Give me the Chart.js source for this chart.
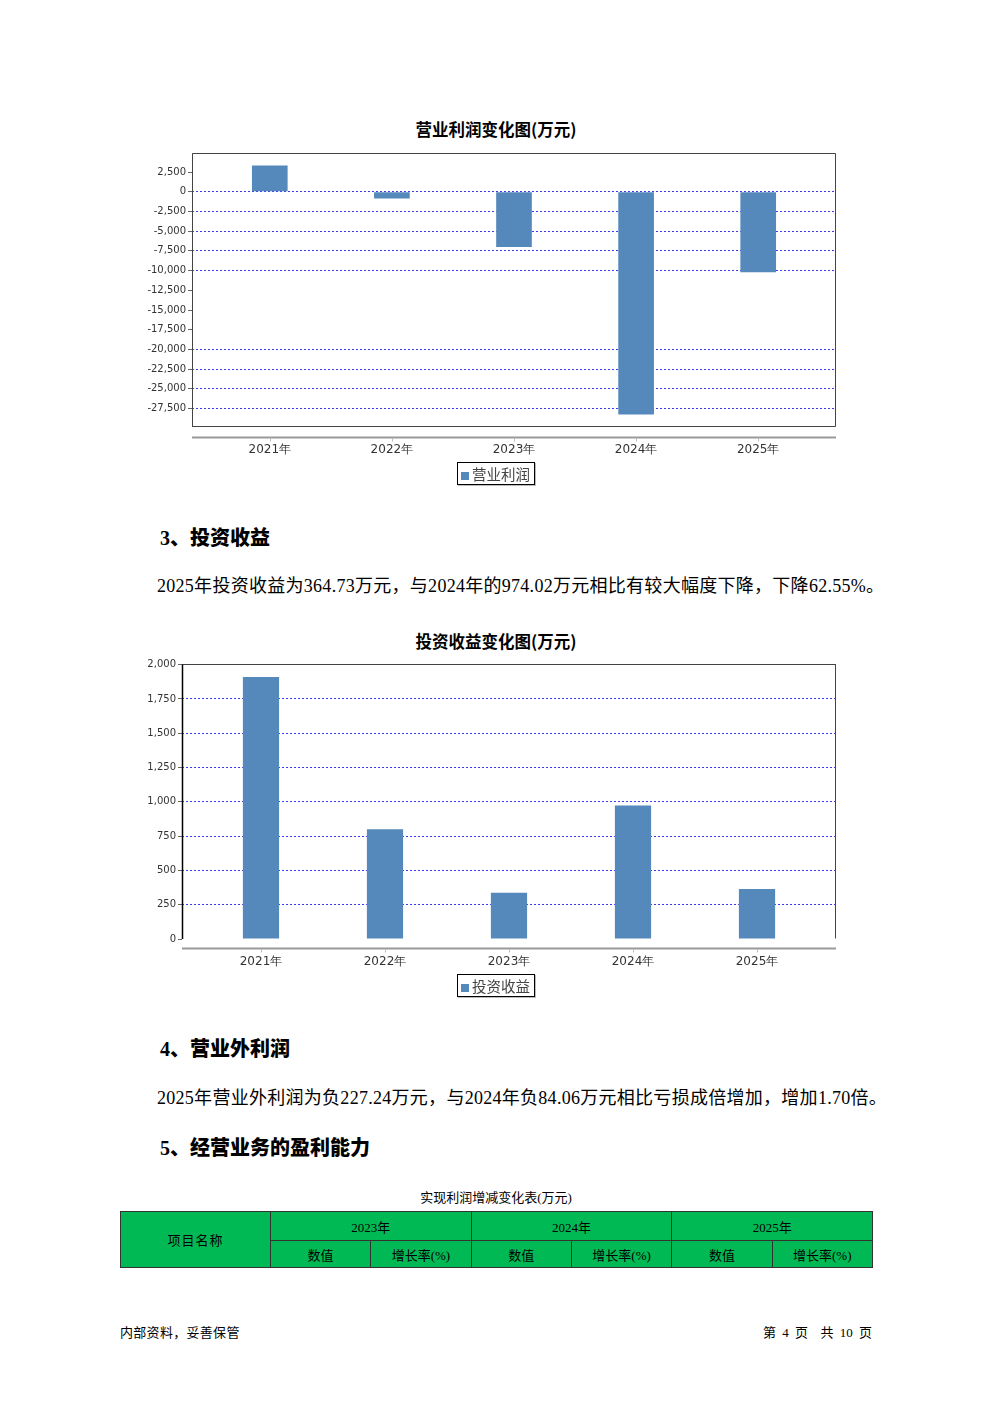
<!DOCTYPE html>
<html>
<head>
<meta charset="utf-8">
<script src="https://cdn.jsdelivr.net/npm/chart.js@4.4.0/dist/chart.umd.min.js"></script>
<style>
  html, body { margin: 0; padding: 0; background: #fff; }
  body { width: 992px; height: 1403px; position: relative; overflow: hidden; font-family: "Noto Sans CJK SC", sans-serif; color: #000; }
  .abs { position: absolute; }
  .ctitle { left: 0; width: 992px; text-align: center; font-weight: bold; font-size: 16.5px; line-height: 20px; }
  .legend { border: 1px solid #000; box-shadow: 1px 1px 0 #bbb; height: 21px; width: 76px; font-size: 14.5px; line-height: 21px; color: #444; white-space: nowrap; }
  .legend i { display: inline-block; width: 8px; height: 8px; background: #5588bb; margin: 0 3px 0 3px; vertical-align: 0px; }
  .h { left: 160px; font-weight: bold; font-size: 20px; line-height: 26px; font-family: "Liberation Serif", "Noto Sans CJK SC", serif; }
  .h b { font-family: "Noto Sans CJK SC", sans-serif; }
  .p { left: 157px; font-size: 18px; line-height: 24px; letter-spacing: 0.28px; font-family: "Liberation Serif", "Noto Sans CJK SC", serif; white-space: nowrap; }
  table { border-collapse: collapse; }
  td { background: #00b955; border: 1px solid #333; text-align: center; font-size: 13px; padding: 0; font-family: "Liberation Serif", "Noto Sans CJK SC", serif; }
  .foot { font-size: 13px; line-height: 16px; font-family: "Liberation Serif", "Noto Sans CJK SC", serif; }
</style>
</head>
<body>

<div class="abs ctitle" style="top:119px">营业利润变化图(万元)</div>
<div class="abs" style="left:130px; top:145px; width:720px; height:320px;"><canvas id="profitChart"></canvas></div>
<div class="abs legend" style="left:457px; top:462px;"><i></i>营业利润</div>

<div class="abs h" style="top:524px">3<b>、投资收益</b></div>
<div class="abs p" style="top:574px">2025年投资收益为364.73万元，与2024年的974.02万元相比有较大幅度下降，下降62.55%。</div>

<div class="abs ctitle" style="top:631px">投资收益变化图(万元)</div>
<div class="abs" style="left:120px; top:655px; width:730px; height:320px;"><canvas id="investChart"></canvas></div>
<div class="abs legend" style="left:457px; top:974px;"><i></i>投资收益</div>

<div class="abs h" style="top:1035px">4<b>、营业外利润</b></div>
<div class="abs p" style="top:1086px">2025年营业外利润为负227.24万元，与2024年负84.06万元相比亏损成倍增加，增加1.70倍。</div>
<div class="abs h" style="top:1134px">5<b>、经营业务的盈利能力</b></div>

<div class="abs foot" style="left:0; width:992px; text-align:center; top:1190px;">实现利润增减变化表(万元)</div>
<table class="abs" style="left:120px; top:1211px; width:753px;">
  <tr style="height:29px">
    <td rowspan="2" style="width:150px; letter-spacing:1px">项目名称</td>
    <td colspan="2">2023年</td><td colspan="2">2024年</td><td colspan="2">2025年</td>
  </tr>
  <tr style="height:27px">
    <td style="width:100px">数值</td><td style="width:100px">增长率(%)</td>
    <td style="width:100px">数值</td><td style="width:100px">增长率(%)</td>
    <td style="width:100px">数值</td><td style="width:100px">增长率(%)</td>
  </tr>
</table>

<div class="abs foot" style="left:120px; top:1325px; letter-spacing:0.3px">内部资料，妥善保管</div>
<div class="abs foot" style="left:700px; width:172px; text-align:right; top:1325px; word-spacing:3px">第 4 页&nbsp;&nbsp;共 10 页</div>

<script>
// ---- data ----
const years = ['2021年', '2022年', '2023年', '2024年', '2025年'];
const operatingProfit = [3340, -845, -7010, -28260, -10220];
const investIncome = [1910, 800, 338, 974.02, 364.73];

const profitTicks = [2500, 0, -2500, -5000, -7500, -10000, -12500, -15000, -17500, -20000, -22500, -25000, -27500];
const profitNoGrid = [2500, -12500, -15000, -17500];
const investTicks = [0, 250, 500, 750, 1000, 1250, 1500, 1750, 2000];

const barColor = '#5588bb';
const gridColor = '#3b3bf5';

// plot frame + detached x axis line below the plot
const framePlugin = {
    id: 'frame',
    afterDraw(chart, args, opts) {
        const { ctx, chartArea: a, scales: { x } } = chart;
        const l = Math.round(a.left) + 0.5, r = Math.round(a.right) - 0.5;
        const t = Math.round(a.top) + 0.5, b = Math.round(a.bottom) - 0.5;
        ctx.save();
        ctx.lineWidth = 1;
        ctx.strokeStyle = '#444';
        ctx.beginPath();
        if (opts.bottom) {
            ctx.rect(l, t, r - l, b - t);
        } else {
            ctx.moveTo(l, t); ctx.lineTo(r, t); ctx.lineTo(r, b);
        }
        ctx.stroke();
        ctx.strokeStyle = opts.leftColor || '#444';
        ctx.lineWidth = opts.leftWidth || 1;
        ctx.beginPath();
        ctx.moveTo(l, t); ctx.lineTo(l, b + 0.5);
        ctx.stroke();
        // x axis
        const y = Math.round(a.bottom + opts.gap) + 0.5;
        ctx.strokeStyle = '#999';
        ctx.lineWidth = 2;
        ctx.beginPath();
        ctx.moveTo(a.left, y); ctx.lineTo(a.right, y);
        ctx.stroke();
        ctx.lineWidth = 1;
        ctx.strokeStyle = '#bbb';
        years.forEach((_, i) => {
            const px = Math.round(x.getPixelForValue(i)) + 0.5;
            ctx.beginPath(); ctx.moveTo(px, y + 1); ctx.lineTo(px, y + 4); ctx.stroke();
        });
        ctx.restore();
    }
};

function makeChart(id, values, label, yMin, yMax, yTicks, noGrid, layoutPad, xHeight, frameOpts) {
    return new Chart(document.getElementById(id).getContext('2d'), {
        type: 'bar',
        data: {
            datasets: [{
                label: label,
                data: values.map((v, i) => ({ x: i, y: v })),
                backgroundColor: barColor,
                borderWidth: 0,
                categoryPercentage: 1,
                barPercentage: 0.292
            }]
        },
        options: {
            responsive: true,
            maintainAspectRatio: false,
            animation: false,
            events: [],
            layout: { padding: layoutPad },
            plugins: { legend: { display: false }, title: { display: false }, tooltip: { enabled: false }, frame: frameOpts },
            scales: {
                x: {
                    type: 'linear',
                    offset: false,
                    min: -0.637,
                    max: years.length - 1 + 0.637,
                    afterBuildTicks: s => { s.ticks = years.map((_, i) => ({ value: i })); },
                    afterFit: s => { s.height = xHeight; },
                    grid: { display: false, drawTicks: false },
                    border: { display: false },
                    ticks: {
                        callback: v => years[v],
                        color: '#333',
                        padding: 16,
                        maxRotation: 0,
                        autoSkip: false,
                        font: { family: 'DejaVu Sans', size: 12 }
                    }
                },
                y: {
                    min: yMin,
                    max: yMax,
                    afterBuildTicks: s => { s.ticks = yTicks.map(v => ({ value: v })); },
                    afterFit: s => { s.width = 62; },
                    grid: {
                        color: c => (c.tick && noGrid.includes(c.tick.value)) ? 'rgba(0,0,0,0)' : gridColor,
                        lineWidth: 1,
                        drawTicks: true,
                        tickLength: 4,
                        tickColor: '#666'
                    },
                    border: { display: false, dash: [2, 2] },
                    ticks: {
                        callback: v => v.toLocaleString('en-US'),
                        color: '#333',
                        padding: 2,
                        font: { family: 'DejaVu Sans', size: 10 }
                    }
                }
            }
        },
        plugins: [framePlugin]
    });
}

makeChart('profitChart', operatingProfit, '营业利润', -29840, 4920, profitTicks, profitNoGrid,
    { top: 7, right: 14, bottom: 0, left: 0 }, 38, { gap: 10, bottom: true });

makeChart('investChart', investIncome, '投资收益', 0, 2005, investTicks, [0],
    { top: 9, right: 14, bottom: 0, left: 0 }, 36, { gap: 9, bottom: false, leftColor: '#000', leftWidth: 1.5 });
</script>
</body>
</html>
